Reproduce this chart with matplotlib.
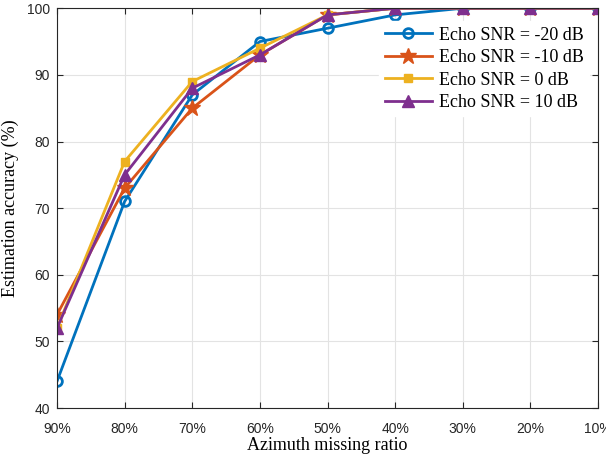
import matplotlib.pyplot as plt

plt.rcParams["font.family"] = ["Liberation Sans", "DejaVu Sans"]

ratios = ["90%", "80%", "70%", "60%", "50%", "40%", "30%", "20%", "10%"]
snr_m20 = [44, 71, 87, 95, 97, 99, 100, 100, 100]
snr_m10 = [54, 73, 85, 93, 99, 100, 100, 100, 100]
snr_0 = [52, 77, 89, 94, 99, 100, 100, 100, 100]
snr_10 = [52, 75, 88, 93, 99, 100, 100, 100, 100]

series = [
    (snr_m20, "Echo SNR = -20 dB", "#0072BD", "o", dict(mfc="none", ms=7, mew=2)),
    (snr_m10, "Echo SNR = -10 dB", "#D95319", "*", dict(ms=12)),
    (snr_0, "Echo SNR = 0 dB", "#EDB120", "s", dict(ms=6)),
    (snr_10, "Echo SNR = 10 dB", "#7E2F8E", "^", dict(ms=9)),
]

fig = plt.figure(figsize=(6.06, 4.57), dpi=100)
ax = fig.add_axes([0.094, 0.107, 0.893, 0.875])

x = range(len(ratios))
for vals, label, color, marker, kw in series:
    ax.plot(x, vals, color=color, marker=marker, lw=2, label=label, **kw)

ax.set_xlim(0, len(ratios) - 1)
ax.set_ylim(40, 100)
ax.set_xticks(list(x))
ax.set_xticklabels(ratios)
ax.set_yticks(range(40, 101, 10))
ax.tick_params(direction="in", top=True, right=True, length=4,
               labelsize=10, colors="#262626")
ax.tick_params(axis="x", pad=10)
ax.tick_params(axis="y", pad=5)
ax.grid(True, color="#e3e3e3", lw=0.8)
ax.set_axisbelow(True)
for sp in ax.spines.values():
    sp.set_color("#262626")
    sp.set_linewidth(0.8)

ax.set_xlabel("Azimuth missing ratio", family="Liberation Serif", fontsize=13,
              labelpad=1)
ax.set_ylabel("Estimation accuracy (%)", family="Liberation Serif", fontsize=13,
              labelpad=6)

leg = ax.legend(loc="upper right", bbox_to_anchor=(1.0, 0.99),
                prop={"family": "Liberation Serif", "size": 13},
                frameon=True, fancybox=False, edgecolor="white",
                handlelength=2.6, labelspacing=0.3, borderpad=0.3,
                handletextpad=0.4)
leg.get_frame().set_alpha(1)

fig.savefig("out.png")
